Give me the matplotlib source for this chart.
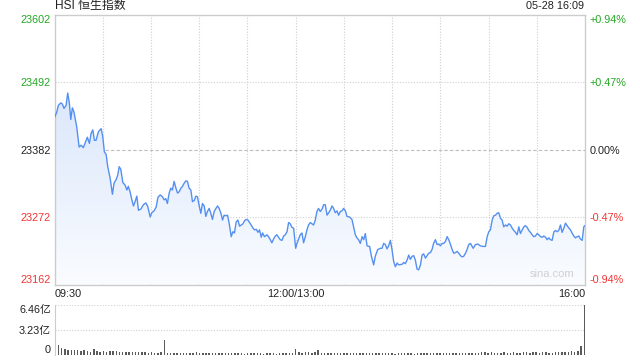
#!/usr/bin/env python3
"""
HSI intraday chart (sina style): price line with gradient fill and volume bars.
"""

import numpy as np
import matplotlib
matplotlib.use('Agg')
import matplotlib.pyplot as plt
from matplotlib.colors import LinearSegmentedColormap

plt.rcParams['font.family'] = ['Liberation Sans', 'Noto Sans CJK SC', 'DejaVu Sans']

# ---- data -------------------------------------------------------------
title = "HSI 恒生指数"
stamp = "05-28 16:09"
prev_close = 23382

# trading minutes since 09:30 (lunch break removed: 150 = 12:00/13:00)
minutes = [
    0, 1.4, 2.4, 3.9, 4.9, 5.9, 7.2, 8.2, 9.2, 10.1, 11.1, 12.1, 13.8, 15.3, 16.5,
    17.9, 19.4, 20.4, 21.7, 22.7, 23.8, 24.8, 25.8, 27.3, 29.0, 30.0, 31.0, 32.1,
    33.1, 34.6, 36.0, 37.0, 38.3, 39.3, 40.2, 41.2, 42.5, 43.9, 45.0, 45.9, 47.0,
    48.1, 49.1, 50.1, 51.2, 52.2, 53.7, 55.3, 56.8, 58.0, 59.5, 60.5, 61.9, 63.2,
    64.3, 65.7, 67.1, 68.2, 69.2, 70.2, 71.3, 72.3, 73.3, 74.4, 75.5, 76.5, 77.5,
    78.6, 79.6, 80.6, 81.7, 82.7, 83.7, 84.8, 85.8, 86.9, 87.9, 88.9, 90.0, 91.0,
    92.0, 93.1, 94.1, 95.1, 96.2, 97.2, 98.2, 99.3, 100.4, 101.4, 102.4, 103.5,
    104.5, 105.5, 106.6, 107.6, 108.6, 109.9, 110.9, 111.9, 113.0, 114.1, 115.1,
    116.1, 117.2, 118.2, 119.2, 120.3, 121.3, 122.3, 123.4, 124.4, 125.5, 126.5,
    127.5, 128.6, 129.4, 130.6, 132.1, 133.1, 134.2, 135.2, 136.2, 137.3, 138.3,
    139.3, 140.4, 141.5, 142.5, 143.5, 144.6, 145.6, 146.6, 147.7, 148.7, 150.0,
    150.8, 151.8, 152.8, 153.9, 154.9, 156.0, 157.0, 158.0, 159.1, 160.1, 161.1,
    162.2, 163.2, 164.2, 165.3, 166.4, 167.4, 168.4, 169.5, 170.5, 171.5, 172.6,
    173.6, 174.6, 175.7, 176.7, 177.8, 178.8, 179.8, 180.9, 181.9, 183.5, 185.0,
    186.0, 187.1, 188.1, 189.1, 190.2, 191.3, 192.3, 193.3, 194.4, 196.0, 197.1,
    198.5, 199.5, 201.0, 202.7, 203.7, 204.7, 205.8, 206.8, 207.8, 208.9, 209.9,
    210.9, 212.0, 213.1, 214.1, 216.2, 217.2, 218.2, 219.3, 220.3, 221.3, 222.4,
    223.4, 224.4, 225.5, 226.5, 227.6, 228.6, 229.6, 230.7, 231.7, 232.7, 233.8,
    234.8, 235.8, 236.9, 238.0, 239.0, 240.0, 241.1, 242.1, 243.1, 244.2, 245.2,
    246.2, 247.3, 248.3, 249.4, 250.4, 251.4, 252.5, 253.5, 254.5, 255.6, 256.6,
    257.6, 258.7, 260.4, 261.8, 263.2, 264.9, 266.6, 268.0, 269.1, 270.1, 271.1,
    272.2, 273.2, 274.3, 275.3, 276.3, 277.4, 278.4, 279.4, 280.5, 281.5, 282.5,
    283.6, 284.6, 285.7, 286.7, 287.7, 288.8, 289.8, 290.9, 291.9, 292.9, 294.0,
    295.0, 296.0, 297.1, 298.1, 299.1, 300.2, 301.2, 302.3, 303.3, 304.3, 305.4,
    306.4, 307.4, 308.5, 309.5, 310.6, 311.6, 312.6, 313.6, 314.7, 315.7, 316.8,
    317.8, 318.8, 319.9, 320.9, 321.9, 323.0, 324.0, 325.1, 326.1, 327.1, 328.2,
    329.2, 330.0,
]
prices = [
    23434, 23443, 23454, 23458, 23456, 23449, 23454, 23474, 23458, 23431, 23450,
    23443, 23419, 23386, 23389, 23385, 23395, 23402, 23392, 23408, 23414, 23397,
    23397, 23411, 23416, 23403, 23378, 23374, 23354, 23335, 23309, 23327, 23333,
    23340, 23354, 23350, 23328, 23324, 23316, 23322, 23313, 23300, 23290, 23297,
    23306, 23283, 23285, 23292, 23295, 23289, 23272, 23279, 23282, 23288, 23304,
    23308, 23305, 23300, 23302, 23294, 23311, 23319, 23316, 23330, 23319, 23311,
    23313, 23319, 23322, 23327, 23331, 23330, 23319, 23316, 23297, 23299, 23306,
    23305, 23290, 23278, 23294, 23290, 23273, 23281, 23286, 23278, 23268, 23281,
    23286, 23290, 23286, 23278, 23267, 23275, 23274, 23275, 23262, 23240, 23248,
    23246, 23264, 23267, 23257, 23259, 23261, 23266, 23268, 23267, 23263, 23259,
    23254, 23251, 23252, 23247, 23251, 23239, 23246, 23240, 23243, 23240, 23235,
    23230, 23236, 23241, 23243, 23239, 23235, 23234, 23241, 23243, 23248, 23263,
    23261, 23255, 23254, 23221, 23229, 23236, 23243, 23246, 23230, 23240, 23251,
    23259, 23263, 23261, 23259, 23267, 23281, 23286, 23281, 23285, 23292, 23292,
    23275, 23279, 23283, 23290, 23286, 23279, 23282, 23275, 23281, 23282, 23286,
    23282, 23273, 23272, 23268, 23256, 23243, 23238, 23235, 23229, 23240, 23235,
    23245, 23225, 23224, 23208, 23194, 23208, 23219, 23221, 23221, 23229, 23227,
    23220, 23225, 23234, 23219, 23200, 23191, 23197, 23194, 23195, 23198, 23196,
    23202, 23210, 23203, 23208, 23209, 23202, 23187, 23186, 23194, 23210, 23212,
    23205, 23209, 23213, 23214, 23219, 23229, 23235, 23227, 23228, 23225, 23229,
    23229, 23232, 23240, 23235, 23228, 23219, 23213, 23214, 23216, 23213, 23209,
    23207, 23208, 23213, 23219, 23227, 23229, 23221, 23227, 23228, 23225, 23224,
    23224, 23240, 23248, 23251, 23267, 23274, 23275, 23278, 23279, 23270, 23267,
    23256, 23259, 23257, 23261, 23259, 23254, 23250, 23247, 23243, 23256, 23245,
    23251, 23256, 23258, 23255, 23250, 23247, 23243, 23240, 23241, 23245, 23243,
    23240, 23239, 23241, 23239, 23235, 23238, 23235, 23234, 23248, 23250, 23248,
    23250, 23259, 23247, 23254, 23262, 23258, 23254, 23251, 23246, 23241, 23238,
    23240, 23241, 23236, 23234, 23256, 23258,
]

# volume (亿), one bar every 2 trading minutes
vol_minutes = list(range(0, 331, 2))
volumes = [
    2.50, 1.33, 0.90, 0.80, 0.70, 0.65, 0.60, 0.60, 0.55, 0.62,
    0.50, 0.45, 0.75, 0.50, 0.45, 0.50, 0.45, 0.50, 0.48, 0.50,
    0.45, 0.40, 0.35, 0.42, 0.45, 0.40, 0.42, 0.38, 0.35, 0.30,
    0.35, 0.30, 0.28, 0.33, 1.98, 0.25, 0.22, 0.24, 0.20, 0.22,
    0.26, 0.22, 0.20, 0.23, 0.35, 0.22, 0.20, 0.22, 0.20, 0.25,
    0.22, 0.20, 0.24, 0.30, 0.22, 0.20, 0.22, 0.25, 0.20, 0.18,
    0.20, 0.22, 0.20, 0.28, 0.20, 0.18, 0.20, 0.22, 0.20, 0.18,
    0.20, 0.22, 0.25, 0.28, 0.20, 0.80, 0.40, 0.30, 0.45, 0.35,
    0.30, 0.35, 0.70, 0.28, 0.22, 0.25, 0.20, 0.22, 0.24, 0.20,
    0.22, 0.25, 0.20, 0.22, 0.20, 0.26, 0.22, 0.20, 0.24, 0.22,
    0.20, 0.22, 0.25, 0.20, 0.22, 0.20, 0.18, 0.22, 0.20, 0.24,
    0.22, 0.20, 0.18, 0.20, 0.22, 0.20, 0.24, 0.22, 0.20, 0.22,
    0.20, 0.22, 0.24, 0.22, 0.20, 0.25, 0.22, 0.24, 0.20, 0.22,
    0.25, 0.28, 0.30, 0.40, 0.35, 0.30, 0.38, 0.32, 0.30, 0.28,
    0.40, 0.32, 0.30, 0.35, 0.30, 0.32, 0.38, 0.35, 0.30, 0.40,
    0.35, 0.30, 0.33, 0.38, 0.32, 0.30, 0.35, 0.40, 0.42, 0.38,
    0.45, 0.50, 0.45, 0.50, 1.20, 6.46,
]

price_ticks = [23162, 23272, 23382, 23492, 23602]
vol_ticks = [0, 3.23, 6.46]
vol_tick_labels = ["0", "3.23亿", "6.46亿"]
time_ticks = [0, 150, 330]
time_labels = ["09:30", "12:00/13:00", "16:00"]

# ---- style ------------------------------------------------------------
GREEN = '#22a822'
RED = '#f03535'
LINE = '#5590f0'
GRID = '#cfcfcf'
FS = 7.8


def tick_color(value):
    if value > prev_close:
        return GREEN
    if value < prev_close:
        return RED
    return '#222222'


fig = plt.figure(figsize=(6.4, 3.6), dpi=100)
ax = fig.add_axes([0.0852, 0.2097, 0.8290, 0.7500])
axv = fig.add_axes([0.0852, 0.0139, 0.8290, 0.1389])

t = np.array(minutes)
p = np.array(prices)
lo, hi = price_ticks[0], price_ticks[-1]

# gradient fill under the line
poly = ax.fill_between(t, p, lo, facecolor='none', edgecolor='none')
cmap = LinearSegmentedColormap.from_list('fade', ['#fafcff', '#dbe7fb'])
grad = np.linspace(0, 1, 256).reshape(-1, 1)
im = ax.imshow(grad, extent=[0, 330, lo, p.max()], origin='lower',
               aspect='auto', cmap=cmap, zorder=1)
im.set_clip_path(poly.get_paths()[0], transform=ax.transData)

ax.plot(t, p, color=LINE, lw=1.0, zorder=3)

# grid
for v in price_ticks[1:-1]:
    if v == prev_close:
        ax.axhline(v, color='#bdbdbd', lw=0.8, ls=(0, (3, 2)), zorder=0)
    else:
        ax.axhline(v, color=GRID, lw=0.8, ls=(0, (1, 1.5)), zorder=0)
for m in range(30, 330, 30):
    ax.axvline(m, color=GRID, lw=0.8, ls=(0, (1, 1.5)), zorder=0)

ax.set_xlim(0, 330)
ax.set_ylim(lo, hi)
for s in ax.spines.values():
    s.set_color('#cccccc')
    s.set_linewidth(1.0)

ax.set_yticks(price_ticks)
ax.set_yticklabels([str(v) for v in price_ticks])
ax.tick_params(axis='y', length=0, pad=2.5, labelsize=FS)
for lab, v in zip(ax.get_yticklabels(), price_ticks):
    lab.set_color(tick_color(v))
ax.get_yticklabels()[0].set_va('bottom')
ax.get_yticklabels()[-1].set_va('top')

ax.set_xticks(time_ticks)
ax.set_xticklabels(time_labels)
ax.tick_params(axis='x', length=0, pad=3, labelsize=FS, colors='#222222')
xl = ax.get_xticklabels()
xl[0].set_ha('left')
xl[-1].set_ha('right')

# right percent axis
axr = ax.twinx()
axr.set_ylim(lo, hi)
axr.set_yticks(price_ticks)
pct_labels = []
for v in price_ticks:
    pct = (v - prev_close) / prev_close * 100
    pct_labels.append("0.00%" if abs(pct) < 0.005 else f"{pct:+.2f}%")
axr.set_yticklabels(pct_labels)
axr.tick_params(axis='y', length=0, pad=3.5, labelsize=FS)
for lab, v in zip(axr.get_yticklabels(), price_ticks):
    lab.set_color(tick_color(v))
axr.get_yticklabels()[0].set_va('bottom')
axr.get_yticklabels()[-1].set_va('top')
for s in axr.spines.values():
    s.set_visible(False)

# header texts and watermark
fig.text(0.0852, 0.982, title, fontsize=8.6, color='#222222', ha='left', va='center')
fig.text(0.912, 0.982, stamp, fontsize=FS, color='#222222', ha='right', va='center')
ax.text(0.98, 0.02, "sina.com", transform=ax.transAxes, fontsize=8,
        color='#d0d0d0', ha='right', va='bottom', zorder=4)

# volume panel
axv.bar(vol_minutes, volumes, width=0.9, color='#5a5a5a', zorder=2)
axv.set_xlim(-0.5, 330.5)
axv.set_ylim(0, vol_ticks[-1])
for v in vol_ticks[1:]:
    axv.axhline(v, color=GRID, lw=0.8, ls=(0, (1, 1.5)), zorder=0)
axv.set_yticks(vol_ticks)
axv.set_yticklabels(vol_tick_labels)
axv.tick_params(axis='y', length=0, pad=2.5, labelsize=FS, colors='#222222')
axv.get_yticklabels()[0].set_va('bottom')
axv.get_yticklabels()[-1].set_va('top')
axv.set_xticks([])
for name, s in axv.spines.items():
    s.set_color('#cccccc')
    s.set_visible(name == 'left')

fig.savefig('out.png', dpi=100)
